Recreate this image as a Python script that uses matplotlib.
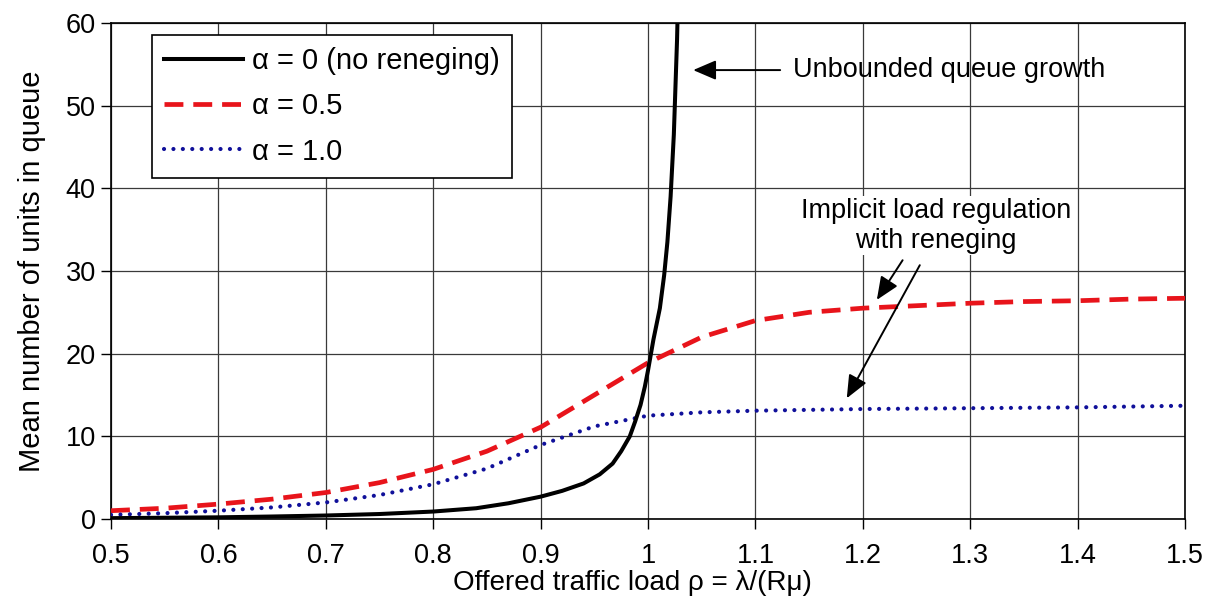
import matplotlib.pyplot as plt

plt.rcParams["font.family"] = ["Liberation Sans", "DejaVu Sans"]

# offered load rho and mean queue length for the three reneging rates
rho_a0 = [0.5, 0.55, 0.6, 0.65, 0.7, 0.75, 0.8, 0.84, 0.87, 0.9, 0.92, 0.94,
          0.955, 0.967, 0.975, 0.983, 0.988, 0.993, 0.997, 1.0, 1.005, 1.011,
          1.015, 1.018, 1.021, 1.024, 1.027, 1.03]
q_a0 = [0.1, 0.15, 0.2, 0.3, 0.42, 0.6, 0.9, 1.3, 1.9, 2.7, 3.4, 4.3,
        5.4, 6.7, 8.2, 10.0, 11.8, 13.8, 16.0, 18.0, 21.7, 25.5,
        29.5, 33.5, 39.0, 46.5, 58.0, 75.0]

rho = [0.5, 0.55, 0.6, 0.65, 0.7, 0.75, 0.8, 0.85, 0.9, 0.95, 1.0, 1.05,
       1.1, 1.15, 1.2, 1.25, 1.3, 1.35, 1.4, 1.45, 1.5]
q_a05 = [1.0, 1.3, 1.8, 2.4, 3.2, 4.4, 6.0, 8.2, 11.1, 15.0, 18.9, 22.0,
         24.0, 25.0, 25.5, 25.8, 26.1, 26.3, 26.4, 26.6, 26.7]
q_a10 = [0.5, 0.7, 1.0, 1.4, 2.0, 2.9, 4.2, 6.1, 8.95, 11.2, 12.5, 12.9,
         13.1, 13.2, 13.3, 13.35, 13.4, 13.45, 13.5, 13.6, 13.7]

labels = ["\u03b1 = 0 (no reneging)", "\u03b1 = 0.5", "\u03b1 = 1.0"]
xticks = [0.5, 0.6, 0.7, 0.8, 0.9, 1.0, 1.1, 1.2, 1.3, 1.4, 1.5]
xticklabels = ["0.5", "0.6", "0.7", "0.8", "0.9", "1", "1.1", "1.2", "1.3", "1.4", "1.5"]
yticks = [0, 10, 20, 30, 40, 50, 60]

FS = 19.5

fig = plt.figure(figsize=(12.12, 6.06), dpi=100)
ax = fig.add_axes([0.0916, 0.1436, 0.8862, 0.8185])

ax.plot(rho_a0, q_a0, color="black", lw=2.9, label=labels[0], zorder=4)
ax.plot(rho, q_a05, color="#e8141b", lw=3.4, dashes=(4.0, 2.1), label=labels[1], zorder=3)
ax.plot(rho, q_a10, color="#10109a", lw=3.0, dashes=(0.01, 2.25),
        dash_capstyle="round", label=labels[2], zorder=3)

ax.set_xlim(0.5, 1.5)
ax.set_ylim(0, 60)
ax.set_xticks(xticks)
ax.set_xticklabels(xticklabels)
ax.set_yticks(yticks)
ax.grid(True, color="#3a3a3a", lw=0.9)
ax.set_axisbelow(True)
for sp in ax.spines.values():
    sp.set_color("black")
    sp.set_linewidth(1.2)
ax.tick_params(axis="both", direction="out", length=7, width=1.0, labelsize=FS, colors="black")
ax.tick_params(axis="x", pad=10)
ax.tick_params(axis="y", pad=4)

ax.set_xlabel("Offered traffic load \u03c1 = \u03bb/(R\u03bc)", fontsize=20, va="center")
ax.xaxis.set_label_coords(0.485, -0.129)
ax.set_ylabel("Mean number of units in queue", fontsize=21, va="center")
ax.yaxis.set_label_coords(-0.074, 0.5)

leg = ax.legend(loc="upper left", bbox_to_anchor=(0.038, 0.976), borderaxespad=0,
                fontsize=21, handlelength=2.7, handletextpad=0.3, labelspacing=0.59,
                borderpad=0.42, fancybox=False, framealpha=1, edgecolor="black")
leg.get_frame().set_linewidth(1.2)
leg.set_zorder(10)

arrow = dict(arrowstyle="-|>,head_length=0.7,head_width=0.3", color="black",
             lw=1.4, mutation_scale=20, shrinkA=0, shrinkB=0)

ax.annotate("", xy=(1.042, 54.3), xytext=(1.123, 54.3), arrowprops=arrow)
ax.text(1.135, 54.3, "Unbounded queue growth", fontsize=FS, va="center", ha="left")

ax.text(1.268, 35.5, "Implicit load regulation\nwith reneging", fontsize=FS,
        va="center", ha="center", multialignment="center",
        bbox=dict(facecolor="white", edgecolor="none", pad=1))
ax.annotate("", xy=(1.213, 26.5), xytext=(1.237, 31.3), arrowprops=arrow)
ax.annotate("", xy=(1.185, 14.6), xytext=(1.253, 30.7), arrowprops=arrow)

fig.savefig("out.png", dpi=100, facecolor="white")
